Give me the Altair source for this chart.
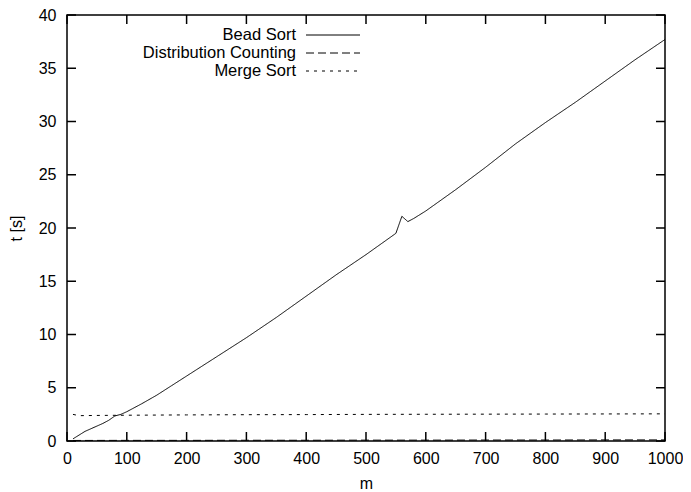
import altair as alt
import pandas as pd

# ---- data ----
bead_m = [10, 20, 30, 40, 50, 60, 70, 80, 90, 100, 125, 150, 175, 200, 250, 300, 350,
          400, 450, 500, 520, 540, 550, 560, 570, 580, 600, 650, 700, 750, 800, 850,
          900, 950, 1000]
bead_t = [0.2, 0.55, 0.9, 1.15, 1.4, 1.65, 1.95, 2.35, 2.5, 2.75, 3.5, 4.3, 5.2, 6.1,
          7.9, 9.7, 11.6, 13.6, 15.6, 17.5, 18.3, 19.1, 19.5, 21.1, 20.6, 20.9, 21.6,
          23.6, 25.7, 27.9, 29.9, 31.8, 33.8, 35.8, 37.7]

dist_m = [10, 100, 200, 300, 400, 500, 600, 700, 800, 900, 1000]
dist_t = [0.05, 0.06, 0.06, 0.07, 0.07, 0.08, 0.08, 0.09, 0.09, 0.1, 0.1]

merge_m = [10, 20, 50, 100, 200, 300, 400, 500, 600, 700, 800, 900, 1000]
merge_t = [2.5, 2.38, 2.4, 2.42, 2.45, 2.47, 2.48, 2.5, 2.51, 2.52, 2.53, 2.54, 2.55]

series_names = ["Bead Sort", "Distribution Counting", "Merge Sort"]
series_dash = [[1, 0], [8, 4], [3, 5]]

x_ticks = [0, 100, 200, 300, 400, 500, 600, 700, 800, 900, 1000]
y_ticks = [0, 5, 10, 15, 20, 25, 30, 35, 40]

W, H = 598, 426
FONT = "Liberation Sans"
TICK = 9

xscale = alt.Scale(domain=[0, 1000], nice=False, zero=False)
yscale = alt.Scale(domain=[0, 40], nice=False)

xaxis = alt.Axis(values=x_ticks, format="d", ticks=False, domain=False, grid=False,
                 labelFont=FONT, labelFontSize=16, labelColor="black", labelPadding=9,
                 title="m", titleFont=FONT, titleFontSize=16, titleFontWeight="normal",
                 titleColor="black", titlePadding=9, labelFlush=False)
yaxis = alt.Axis(values=y_ticks, format="d", ticks=False, domain=False, grid=False,
                 labelFont=FONT, labelFontSize=16, labelColor="black", labelPadding=11,
                 title="t [s]", titleFont=FONT, titleFontSize=16, titleFontWeight="normal",
                 titleColor="black", titlePadding=14)

frames = [
    pd.DataFrame({"m": bead_m, "t": bead_t}),
    pd.DataFrame({"m": dist_m, "t": dist_t}),
    pd.DataFrame({"m": merge_m, "t": merge_t}),
]

layers = []
for df, dash in zip(frames, series_dash):
    layers.append(
        alt.Chart(df).mark_line(color="black", strokeWidth=1, strokeDash=dash, clip=True)
        .encode(x=alt.X("m:Q", scale=xscale, axis=xaxis),
                y=alt.Y("t:Q", scale=yscale, axis=yaxis))
    )

# inward ticks (gnuplot style) on all four sides
xt = pd.DataFrame({"m": x_ticks})
yt = pd.DataFrame({"t": y_ticks})
tick_style = dict(color="black", strokeWidth=1.5)
layers.append(alt.Chart(xt).mark_rule(**tick_style).encode(
    x=alt.X("m:Q", scale=xscale, axis=xaxis), y=alt.value(H), y2=alt.value(H - TICK)))
layers.append(alt.Chart(xt).mark_rule(**tick_style).encode(
    x=alt.X("m:Q", scale=xscale, axis=xaxis), y=alt.value(0), y2=alt.value(TICK)))
layers.append(alt.Chart(yt).mark_rule(**tick_style).encode(
    y=alt.Y("t:Q", scale=yscale, axis=yaxis), x=alt.value(0), x2=alt.value(TICK)))
layers.append(alt.Chart(yt).mark_rule(**tick_style).encode(
    y=alt.Y("t:Q", scale=yscale, axis=yaxis), x=alt.value(W), x2=alt.value(W - TICK)))

# gnuplot-style key: label right-aligned, sample line to the right
key_y = [20, 38, 56]
for name, dash, ky in zip(series_names, series_dash, key_y):
    d = pd.DataFrame({"label": [name]})
    layers.append(alt.Chart(d).mark_text(align="right", baseline="middle", font=FONT,
                                         fontSize=16.5, color="black").encode(
        text="label:N", x=alt.value(229), y=alt.value(ky)))
    layers.append(alt.Chart(d).mark_rule(color="black", strokeWidth=1, strokeDash=dash).encode(
        x=alt.value(239), x2=alt.value(293), y=alt.value(ky)))

chart = alt.layer(*layers).properties(
    width=W, height=H,
    autosize=alt.AutoSizeParams(type="none"),
    padding={"left": 59, "top": 7, "right": 18, "bottom": 49},
    background="white",
).configure_view(stroke="black", strokeWidth=1.5)

chart.save("out.html", embed_options={"renderer": "svg", "actions": False})
